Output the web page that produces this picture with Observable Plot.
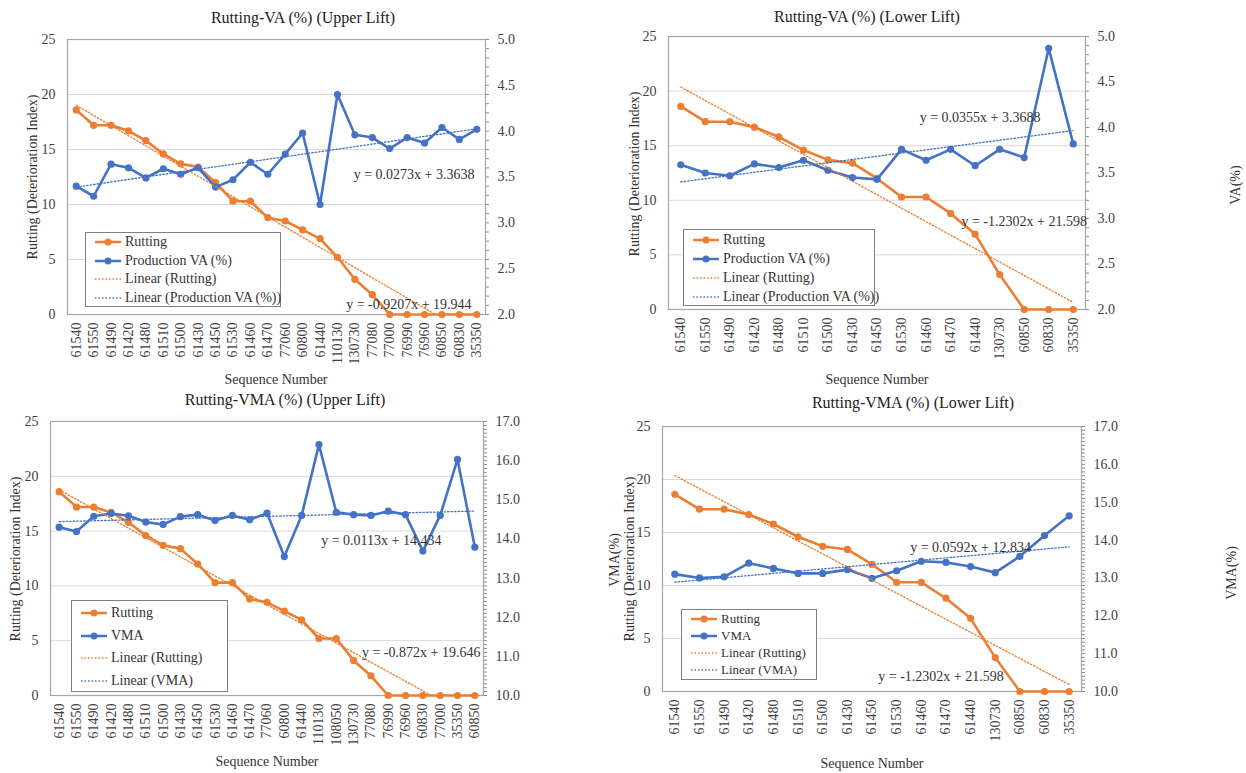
<!DOCTYPE html>
<html>
<head>
<meta charset="utf-8">
<script src="https://cdn.jsdelivr.net/npm/d3@7"></script>
<script src="https://cdn.jsdelivr.net/npm/@observablehq/plot@0.6"></script>
<style>
  html, body { margin: 0; padding: 0; background: #fff; }
  #wrap { position: relative; width: 1246px; height: 773px; overflow: hidden; font-family: "Liberation Serif", "Times New Roman", serif; color: #404040; }
  #wrap svg, #wrap svg text, #wrap .legend, #wrap .lbl { font-family: "Liberation Serif", "Times New Roman", serif !important; }
  .panel { position: absolute; }
  .lbl { position: absolute; white-space: nowrap; transform: translate(-50%, -50%); }
  .rot { transform: translate(-50%, -50%) rotate(-90deg); }
  .legend { position: absolute; box-sizing: border-box; border: 1px solid #7f7f7f; background: #fff; padding: 0 0 0 8px; color: #333; }
  .legend .row { display: flex; align-items: center; white-space: nowrap; }
  .legend svg { margin-right: 3px; flex: none; }
</style>
</head>
<body>
<div id="wrap"></div>
<script>
// ---------- data ----------
const vaUpperSeq = ["61540","61550","61490","61420","61480","61510","61500","61430","61450","61530","61460","61470","77060","60800","61440","110130","130730","77080","77000","76990","76960","60850","60830","35350"];
const vaUpperRutting = [18.6,17.2,17.2,16.7,15.8,14.6,13.7,13.4,12.0,10.3,10.3,8.8,8.5,7.7,6.9,5.2,3.2,1.8,0,0,0,0,0,0];
const vaUpperVA = [3.40,3.29,3.64,3.60,3.49,3.59,3.53,3.60,3.39,3.47,3.66,3.53,3.75,3.98,3.20,4.40,3.96,3.93,3.81,3.93,3.87,4.04,3.91,4.02];

const vaLowerSeq = ["61540","61550","61490","61420","61480","61510","61500","61430","61450","61530","61460","61470","61440","130730","60850","60830","35350"];
const vaLowerRutting = [18.6,17.2,17.2,16.7,15.8,14.6,13.7,13.4,12.0,10.3,10.3,8.8,6.9,3.2,0,0,0];
const vaLowerVA = [3.59,3.50,3.47,3.60,3.56,3.64,3.53,3.45,3.43,3.76,3.64,3.76,3.58,3.76,3.67,4.87,3.82];

const vmaUpperSeq = ["61540","61550","61490","61420","61480","61510","61500","61430","61450","61530","61460","61470","77060","60800","61440","110130","108050","130730","77080","76990","76960","60830","77000","35350","60850"];
const vmaUpperRutting = [18.6,17.2,17.2,16.7,15.8,14.6,13.7,13.4,12.0,10.3,10.3,8.8,8.5,7.7,6.9,5.2,5.2,3.2,1.8,0,0,0,0,0,0];
const vmaUpperVMA = [14.30,14.19,14.58,14.65,14.59,14.43,14.37,14.57,14.62,14.47,14.60,14.49,14.66,13.55,14.60,16.41,14.68,14.62,14.60,14.71,14.62,13.69,14.60,16.03,13.79];

const vmaLowerSeq = ["61540","61550","61490","61420","61480","61510","61500","61430","61450","61530","61460","61470","61440","130730","60850","60830","35350"];
const vmaLowerRutting = [18.6,17.2,17.2,16.7,15.8,14.6,13.7,13.4,12.0,10.3,10.3,8.8,6.9,3.2,0,0,0];
const vmaLowerVMA = [13.10,13.00,13.03,13.39,13.25,13.12,13.12,13.22,12.99,13.19,13.44,13.41,13.30,13.14,13.57,14.12,14.64];

const leftTicks = [0,5,10,15,20,25];
const gridTicks = [5,10,15,20];
const vaTicks = [2.0,2.5,3.0,3.5,4.0,4.5,5.0];
const vmaTicks = [10,11,12,13,14,15,16,17];

// equation labels: text, x (sequence position), y (rutting-axis units)
const vaUpperEq = [{label:"y = 0.0273x + 3.3638", x:20.4, y:12.7},{label:"y = -0.9207x + 19.944", x:20.1, y:0.9}];
const vaLowerEq = [{label:"y = 0.0355x + 3.3688", x:13.2, y:17.6},{label:"y = -1.2302x + 21.598", x:15.0, y:8.1}];
const vmaUpperEq = [{label:"y = 0.0113x + 14.434", x:19.6, y:14.1},{label:"y = -0.872x + 19.646", x:21.9, y:3.95}];
const vmaLowerEq = [{label:"y = 0.0592x + 12.834", x:13.0, y:13.55},{label:"y = -1.2302x + 21.598", x:11.8, y:1.45}];

const ORANGE = "#ED7D31";
const BLUE = "#4472C4";
const FONT = '"Liberation Serif", "Times New Roman", serif';
const wrap = document.getElementById("wrap");

function addLabel(text, x, y, size, rotate, color) {
  const d = document.createElement("div");
  d.className = "lbl" + (rotate ? " rot" : "");
  d.style.left = x + "px"; d.style.top = y + "px";
  d.style.fontSize = size + "px";
  if (color) d.style.color = color;
  d.textContent = text;
  wrap.appendChild(d);
}

function swatch(color, dotted) {
  const ns = "http://www.w3.org/2000/svg";
  const s = document.createElementNS(ns, "svg");
  s.setAttribute("width", 28); s.setAttribute("height", 10);
  const l = document.createElementNS(ns, "line");
  l.setAttribute("x1", 1); l.setAttribute("x2", 27); l.setAttribute("y1", 5); l.setAttribute("y2", 5);
  l.setAttribute("stroke", color);
  if (dotted) { l.setAttribute("stroke-width", 1.3); l.setAttribute("stroke-dasharray", "1.5 2"); }
  else { l.setAttribute("stroke-width", 2.5); }
  s.appendChild(l);
  if (!dotted) {
    const c = document.createElementNS(ns, "circle");
    c.setAttribute("cx", 14); c.setAttribute("cy", 5); c.setAttribute("r", 3.5); c.setAttribute("fill", color);
    s.appendChild(c);
  }
  return s;
}

function addLegend(cfg, names) {
  const box = document.createElement("div");
  box.className = "legend";
  Object.assign(box.style, {left: cfg.left + "px", top: cfg.top + "px", width: cfg.width + "px", height: cfg.height + "px", fontSize: cfg.fs + "px", paddingTop: cfg.pt + "px"});
  const items = [[names[0], ORANGE, false],[names[1], BLUE, false],[names[2], ORANGE, true],[names[3], BLUE, true]];
  for (const [t, c, dot] of items) {
    const r = document.createElement("div");
    r.className = "row"; r.style.height = cfg.rowH + "px";
    r.appendChild(swatch(c, dot));
    const sp = document.createElement("span"); sp.textContent = t; r.appendChild(sp);
    box.appendChild(r);
  }
  wrap.appendChild(box);
}

function makePanel(cfg) {
  const n = cfg.seq.length;
  const toLeft = v => (v - cfg.sMin) / (cfg.sMax - cfg.sMin) * 25;
  const fromLeft = v => cfg.sMin + v / 25 * (cfg.sMax - cfg.sMin);
  const rows = cfg.seq.map((s, k) => ({i: k + 1, seq: s, r: cfg.rut[k], s: toLeft(cfg.sec[k])}));
  const minor = d3.range(Math.round((cfg.sMax - cfg.sMin) / 0.1) + 1).map(k => toLeft(cfg.sMin + k * 0.1));
  const L = cfg.layout;
  const chart = Plot.plot({
    width: L.width, height: L.height,
    marginLeft: L.ml, marginRight: L.mr, marginTop: L.mt, marginBottom: L.mb,
    style: {fontFamily: FONT, fontSize: "14px", color: "#404040", background: "transparent", overflow: "visible"},
    x: {domain: [0.5, n + 0.5], axis: null},
    y: {domain: [0, 25], axis: null},
    marks: [
      Plot.ruleY(gridTicks, {stroke: "#d9d9d9", strokeWidth: 1}),
      Plot.axisY(leftTicks, {anchor: "left", tickSize: 0, tickPadding: 12, label: null, fontSize: 14}),
      Plot.axisY(cfg.sTicks.map(toLeft), {anchor: "right", tickSize: 0, tickPadding: 12, label: null, fontSize: 14, tickFormat: d => fromLeft(d).toFixed(1)}),
      Plot.axisY(minor, {anchor: "right", tickSize: 3, label: null, tickFormat: () => "", stroke: "#8c8c8c"}),
      Plot.axisX(d3.range(1, n + 1), {anchor: "bottom", tickSize: 0, tickPadding: 8, tickRotate: -90, label: null, fontSize: 14, tickFormat: i => cfg.seq[i - 1]}),
      Plot.frame({stroke: "#a6a6a6", strokeWidth: 1.2}),
      Plot.line(rows, {x: "i", y: "r", stroke: ORANGE, strokeWidth: 2.6}),
      Plot.dot(rows, {x: "i", y: "r", r: 3.6, fill: ORANGE}),
      Plot.line(rows, {x: "i", y: "s", stroke: BLUE, strokeWidth: 2.6}),
      Plot.dot(rows, {x: "i", y: "s", r: 3.6, fill: BLUE}),
      Plot.linearRegressionY(rows, {x: "i", y: "r", stroke: ORANGE, strokeWidth: 1.3, strokeDasharray: "1.5 2", ci: 0, clip: true}),
      Plot.linearRegressionY(rows, {x: "i", y: "s", stroke: BLUE, strokeWidth: 1.3, strokeDasharray: "1.5 2", ci: 0, clip: true}),
      Plot.text(cfg.eqs, {x: "x", y: "y", text: "label", fontSize: 14, fill: "#333"})
    ]
  });
  const holder = document.createElement("div");
  holder.className = "panel";
  holder.style.left = L.left + "px"; holder.style.top = L.top + "px";
  holder.appendChild(chart);
  wrap.appendChild(holder);

  addLabel(cfg.title, cfg.titlePos[0], cfg.titlePos[1], 16, false, "#222");
  addLabel("Rutting (Deterioration Index)", cfg.yPos[0], cfg.yPos[1], 14, true, "#333");
  if (cfg.rTitle) addLabel(cfg.rTitle, cfg.rPos[0], cfg.rPos[1], 14, true, "#333");
  addLabel("Sequence Number", cfg.xPos[0], cfg.xPos[1], 14, false, "#333");
  addLegend(cfg.legend, cfg.names);
}

makePanel({
  title: "Rutting-VA (%) (Upper Lift)", seq: vaUpperSeq, rut: vaUpperRutting, sec: vaUpperVA,
  sMin: 2, sMax: 5, sTicks: vaTicks, eqs: vaUpperEq,
  names: ["Rutting", "Production VA (%)", "Linear (Rutting)", "Linear (Production VA (%))"],
  layout: {left: 0, top: 0, width: 620, height: 390, ml: 67, mr: 135, mt: 39, mb: 76},
  titlePos: [303, 18], yPos: [33, 177], rTitle: null, xPos: [276, 380],
  legend: {left: 85, top: 232, width: 196, height: 75, rowH: 18.5, fs: 14, pt: 0}
});
makePanel({
  title: "Rutting-VA (%) (Lower Lift)", seq: vaLowerSeq, rut: vaLowerRutting, sec: vaLowerVA,
  sMin: 2, sMax: 5, sTicks: vaTicks, eqs: vaLowerEq,
  names: ["Rutting", "Production VA (%)", "Linear (Rutting)", "Linear (Production VA (%))"],
  layout: {left: 620, top: 0, width: 626, height: 390, ml: 48, mr: 161, mt: 36, mb: 81},
  titlePos: [867, 17], yPos: [635, 174], rTitle: "VA(%)", rPos: [1236, 185], xPos: [877, 380],
  legend: {left: 683, top: 229, width: 192, height: 77, rowH: 19, fs: 14, pt: 0}
});
makePanel({
  title: "Rutting-VMA (%) (Upper Lift)", seq: vmaUpperSeq, rut: vmaUpperRutting, sec: vmaUpperVMA,
  sMin: 10, sMax: 17, sTicks: vmaTicks, eqs: vmaUpperEq,
  names: ["Rutting", "VMA", "Linear (Rutting)", "Linear (VMA)"],
  layout: {left: 0, top: 385, width: 620, height: 388, ml: 50, mr: 137, mt: 36, mb: 78},
  titlePos: [285, 400], yPos: [16, 559], rTitle: "VMA(%)", rPos: [615, 560], xPos: [267, 762],
  legend: {left: 71, top: 600, width: 157, height: 92, rowH: 22.5, fs: 14, pt: 1}
});
makePanel({
  title: "Rutting-VMA (%) (Lower Lift)", seq: vmaLowerSeq, rut: vmaLowerRutting, sec: vmaLowerVMA,
  sMin: 10, sMax: 17, sTicks: vmaTicks, eqs: vmaLowerEq,
  names: ["Rutting", "VMA", "Linear (Rutting)", "Linear (VMA)"],
  layout: {left: 620, top: 385, width: 626, height: 388, ml: 42, mr: 165, mt: 41, mb: 82},
  titlePos: [913, 403], yPos: [630, 559], rTitle: "VMA(%)", rPos: [1232, 573], xPos: [872, 764],
  legend: {left: 681, top: 609, width: 136, height: 71, rowH: 17, fs: 13, pt: 0}
});
</script>
</body>
</html>
